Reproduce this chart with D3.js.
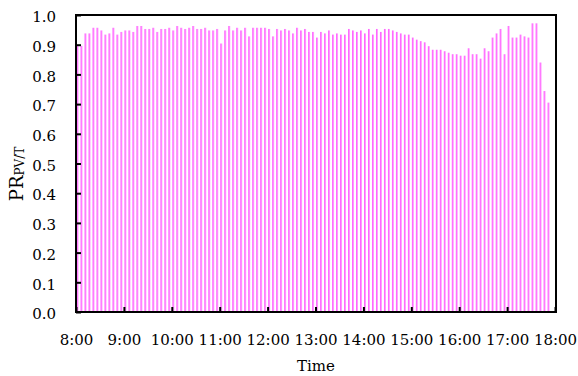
<!DOCTYPE html>
<html>
<head>
<meta charset="utf-8">
<script src="https://cdn.jsdelivr.net/npm/d3@7"></script>
<style>
  html, body { margin: 0; padding: 0; background: #fff; }
  svg text { font-family: "DejaVu Serif", serif; fill: #000; }
</style>
</head>
<body>
<div id="chart"></div>
<script>
// series: PR of the PV/T system, one value every 5 minutes from 8:00
const startTime = "8:00";
const stepMinutes = 5;
const prValues = [
  0.896, 0.896, 0.938, 0.938, 0.957, 0.957, 0.948, 0.934, 0.938, 0.957,
  0.934, 0.943, 0.948, 0.948, 0.943, 0.963, 0.963, 0.953, 0.953, 0.957,
  0.943, 0.953, 0.953, 0.957, 0.948, 0.963, 0.957, 0.953, 0.957, 0.963,
  0.953, 0.953, 0.957, 0.948, 0.948, 0.953, 0.904, 0.948, 0.963, 0.948,
  0.957, 0.948, 0.957, 0.928, 0.957, 0.957, 0.957, 0.957, 0.953, 0.928,
  0.953, 0.948, 0.953, 0.948, 0.938, 0.957, 0.948, 0.953, 0.943, 0.943,
  0.924, 0.943, 0.938, 0.948, 0.934, 0.938, 0.934, 0.934, 0.953, 0.948,
  0.943, 0.948, 0.938, 0.953, 0.934, 0.953, 0.943, 0.953, 0.953, 0.948,
  0.943, 0.938, 0.934, 0.934, 0.924, 0.917, 0.912, 0.908, 0.895, 0.883,
  0.883, 0.883, 0.878, 0.873, 0.868, 0.868, 0.863, 0.863, 0.888, 0.868,
  0.868, 0.853, 0.888, 0.878, 0.924, 0.938, 0.953, 0.868, 0.963, 0.924,
  0.924, 0.934, 0.928, 0.924, 0.972, 0.972, 0.840, 0.744, 0.705
];
const xTickLabels = ["8:00", "9:00", "10:00", "11:00", "12:00", "13:00",
  "14:00", "15:00", "16:00", "17:00", "18:00"];
const yTickValues = [0, 0.1, 0.2, 0.3, 0.4, 0.5, 0.6, 0.7, 0.8, 0.9, 1.0];

const W = 578, H = 376;
const margin = { top: 15, right: 22, bottom: 64, left: 76 };
const width = W - margin.left - margin.right;
const height = H - margin.top - margin.bottom;

const parseTime = d3.timeParse("%H:%M");
const t0 = parseTime(startTime);
const data = prValues.map((v, i) => ({ t: d3.timeMinute.offset(t0, i * stepMinutes), v }));

const svg = d3.select("#chart").append("svg")
  .attr("width", W).attr("height", H);

const defs = svg.append("defs");
const grad = defs.append("linearGradient").attr("id", "barGrad")
  .attr("x1", "0%").attr("y1", "0%").attr("x2", "100%").attr("y2", "0%");
grad.append("stop").attr("offset", "0%").attr("stop-color", "#ff4dff");
grad.append("stop").attr("offset", "100%").attr("stop-color", "#ffb3ff");

const g = svg.append("g").attr("transform", `translate(${margin.left},${margin.top})`);

const x = d3.scaleTime()
  .domain([parseTime(xTickLabels[0]), parseTime(xTickLabels[xTickLabels.length - 1])])
  .range([0, width - 1]);
const y = d3.scaleLinear().domain([0, 1]).range([height, 0]);

// bars
g.selectAll("rect.bar").data(data).enter().append("rect")
  .attr("class", "bar")
  .attr("x", d => x(d.t) + 0.6)
  .attr("width", 2)
  .attr("y", d => y(d.v))
  .attr("height", d => height - y(d.v))
  .attr("fill", "url(#barGrad)");

// frame
g.append("rect")
  .attr("x", 0).attr("y", 0).attr("width", width).attr("height", height)
  .attr("fill", "none").attr("stroke", "#000").attr("stroke-width", 2);

// y axis (ticks pointing inward)
const yAxis = g.append("g")
  .call(d3.axisLeft(y).tickValues(yTickValues).tickSizeInner(-5).tickSizeOuter(0)
    .tickPadding(20).tickFormat(d3.format(".1f")));
yAxis.select(".domain").remove();
yAxis.selectAll(".tick line").attr("stroke", "#000").attr("stroke-width", 2);
yAxis.selectAll(".tick text")
  .attr("font-size", 15).attr("font-family", "DejaVu Serif").attr("dy", "0.45em");

// x axis (ticks pointing inward)
const xAxis = g.append("g").attr("transform", `translate(0,${height})`)
  .call(d3.axisBottom(x).tickValues(xTickLabels.map(parseTime))
    .tickSizeInner(-5).tickSizeOuter(0).tickPadding(22)
    .tickFormat((d, i) => xTickLabels[i]));
xAxis.select(".domain").remove();
xAxis.selectAll(".tick line").attr("stroke", "#000").attr("stroke-width", 2);
xAxis.selectAll(".tick text")
  .attr("font-size", 15).attr("font-family", "DejaVu Serif");

// axis titles
svg.append("text")
  .attr("x", margin.left + width / 2).attr("y", 371)
  .attr("text-anchor", "middle").attr("font-size", 15)
  .text("Time");

const yTitle = svg.append("text")
  .attr("transform", "translate(22.7,174) rotate(-90)")
  .attr("text-anchor", "middle");
yTitle.append("tspan").attr("font-size", 18).text("PR");
yTitle.append("tspan").attr("font-size", 12).attr("dy", 1.5).text("PV/T");
</script>
</body>
</html>
